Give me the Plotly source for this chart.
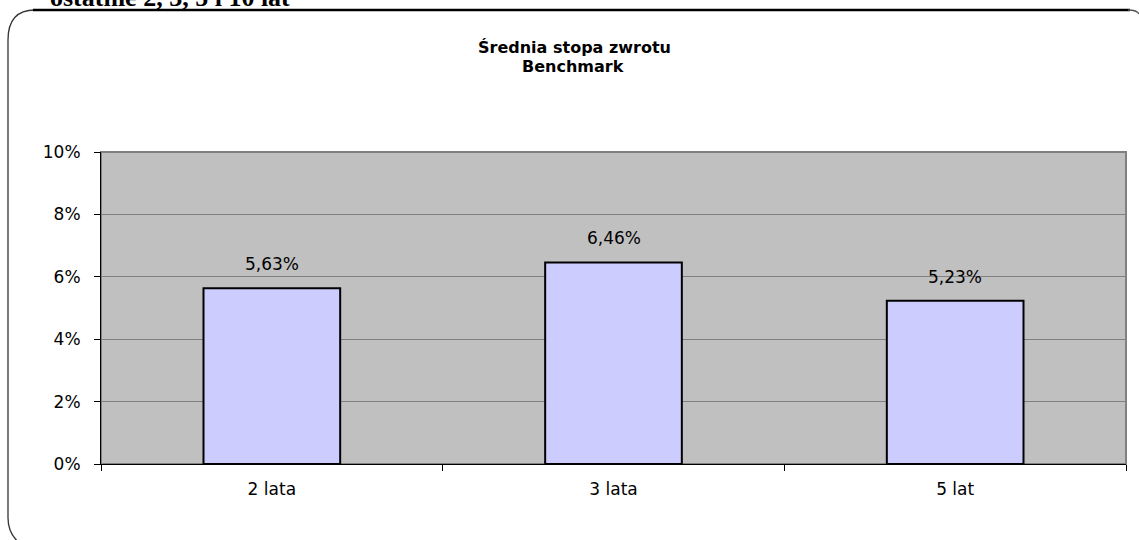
import plotly.graph_objects as go

categories = ["2 lata", "3 lata", "5 lat"]
values = [0.0563, 0.0646, 0.0523]
y_ticks = [0, 0.02, 0.04, 0.06, 0.08, 0.10]
title_lines = ["Średnia stopa zwrotu", "Benchmark"]
header_text = "ostatnie 2, 3, 5 i 10 lat"

W, H = 1139, 540
L, R, T, B = 101, 1126, 152, 464
pw, ph = R - L, B - T

def px(x):
    return (x - L) / pw

def py(y):
    return (B - y) / ph

FONT = "DejaVu Sans"

fig = go.Figure()
fig.add_trace(go.Bar(
    x=categories, y=values, width=0.4,
    marker=dict(color="#CCCCFF", line=dict(color="black", width=2)),
    hoverinfo="skip",
))

font = dict(family=FONT, size=17, color="black")

shapes = [
    dict(type="rect", xref="paper", yref="paper", x0=0, x1=1, y0=0, y1=1,
         line=dict(color="#808080", width=2), layer="below"),
]
r = 25
left_path = (f"M {px(35)},{py(10)} Q {px(8)},{py(10)} {px(8)},{py(10+r+5)} "
             f"L {px(8)},{py(518)} Q {px(8)},{py(535)} {px(22)},{py(545)}")
shapes.append(dict(type="path", xref="paper", yref="paper", path=left_path,
                   line=dict(color="#333333", width=1.3)))
shapes.append(dict(type="line", xref="paper", yref="paper",
                   x0=px(33), x1=px(1130), y0=py(10), y1=py(10),
                   line=dict(color="black", width=2.5)))
right_path = (f"M {px(1128)},{py(10)} Q {px(1137)},{py(10)} {px(1139)},{py(14)}")
shapes.append(dict(type="path", xref="paper", yref="paper", path=right_path,
                   line=dict(color="#555555", width=1.3)))

annotations = [
    dict(text=f"<b>{title_lines[0]}</b>", xref="paper", yref="paper",
         x=px(574), y=py(47), xanchor="center", yanchor="middle",
         showarrow=False, font=dict(family=FONT, size=16, color="black")),
    dict(text=f"<b>{title_lines[1]}</b>", xref="paper", yref="paper",
         x=px(573), y=py(66), xanchor="center", yanchor="middle",
         showarrow=False, font=dict(family=FONT, size=16, color="black")),
    dict(text=f"<b>{header_text}</b>", xref="paper", yref="paper",
         x=px(48), y=py(7), xanchor="left", yanchor="bottom", yshift=-7,
         showarrow=False, font=dict(family="Liberation Serif", size=26, color="black")),
]
for c, v in zip(categories, values):
    annotations.append(dict(
        x=c, y=v, xref="x", yref="y", text=f"{v*100:.2f}%".replace(".", ","),
        showarrow=False, yanchor="bottom", yshift=12,
        font=dict(family=FONT, size=17, color="black"),
    ))

fig.update_layout(
    width=W, height=H,
    margin=dict(l=L, r=W - R, t=T, b=H - B, pad=0),
    paper_bgcolor="white", plot_bgcolor="#C0C0C0",
    separators=", ",
    showlegend=False,
    shapes=shapes, annotations=annotations,
    bargap=0.6,
)
fig.update_xaxes(
    showline=True, linecolor="black", linewidth=1,
    ticks="outside", tickson="boundaries", ticklen=6, tickcolor="black",
    tickfont=font, showgrid=False, ticklabelstandoff=10,
)
fig.update_yaxes(
    range=[0, 0.10], tickvals=y_ticks, tickformat=".0%",
    showline=True, linecolor="black", linewidth=1,
    ticks="outside", ticklen=6, tickcolor="black",
    showgrid=True, gridcolor="#808080", gridwidth=1,
    zeroline=False, tickfont=font, ticklabelstandoff=10,
)

fig.write_html("out.html", config={"displayModeBar": False},
               post_script="document.body.style.margin='0';document.body.style.overflow='hidden';")
